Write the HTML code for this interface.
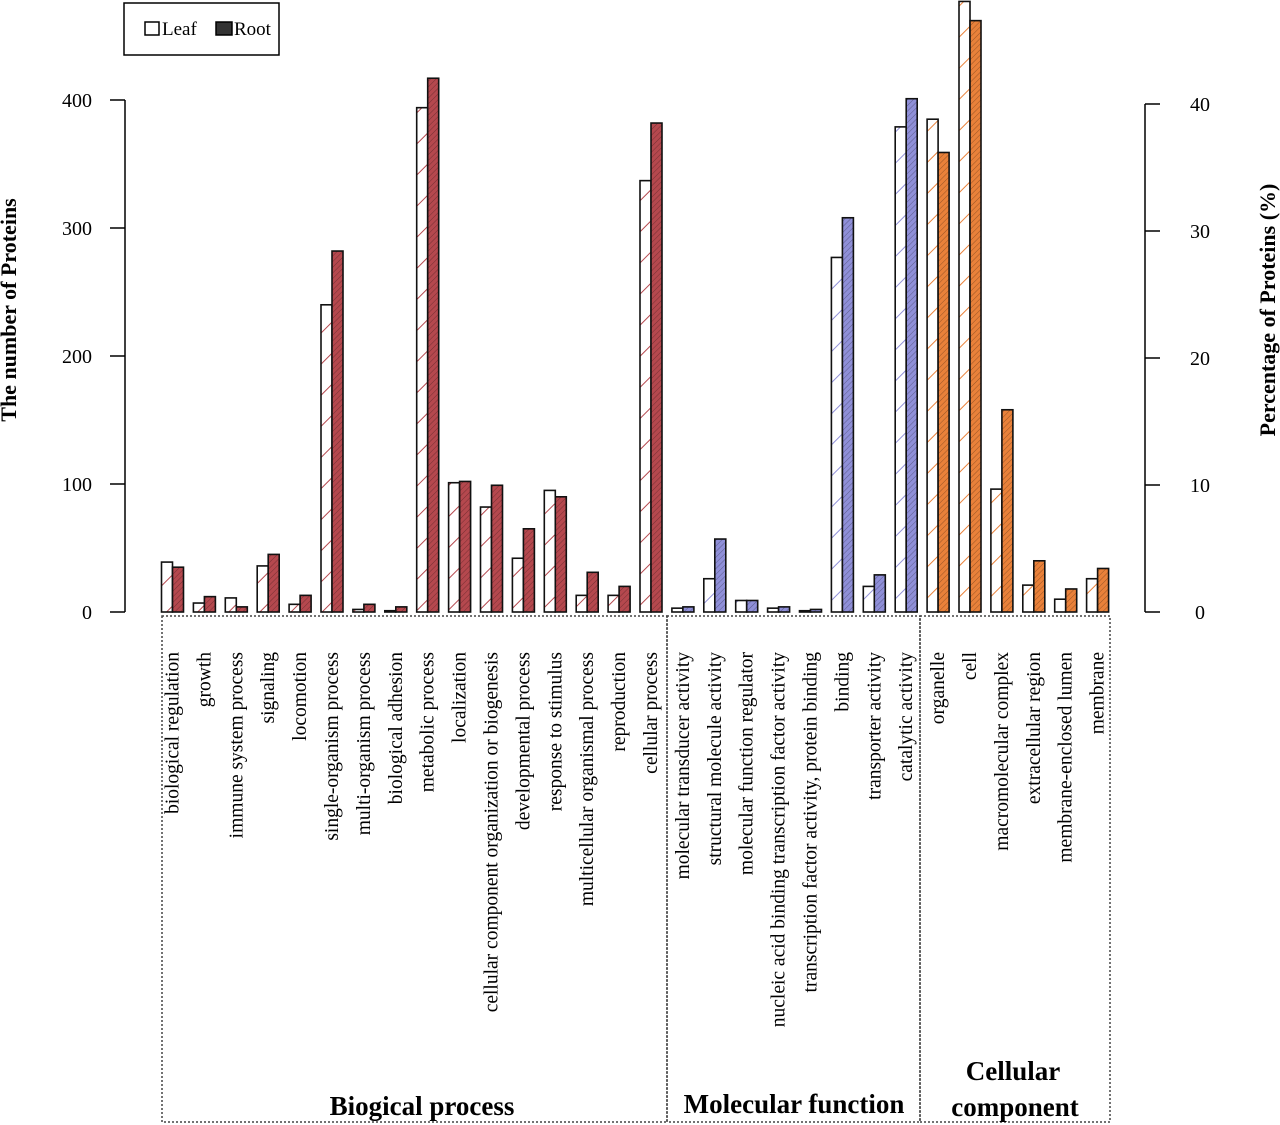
<!DOCTYPE html>
<html><head><meta charset="utf-8"><style>
html,body{margin:0;padding:0;background:#fff;}
svg{display:block;font-family:"Liberation Serif",serif;}
</style></head><body>
<svg id="chart" width="1280" height="1125" viewBox="0 0 1280 1125" xmlns="http://www.w3.org/2000/svg">
<defs>
<pattern id="hRoot" patternUnits="userSpaceOnUse" width="4" height="4" patternTransform="rotate(45)"><line x1="0" y1="0" x2="0" y2="4" stroke="#000" stroke-opacity="0.35" stroke-width="1"/></pattern>
</defs>
<g id="marks"></g>
</svg>
<script>
const categories = ["biological regulation","growth","immune system process","signaling","locomotion","single-organism process","multi-organism process","biological adhesion","metabolic process","localization","cellular component organization or biogenesis","developmental process","response to stimulus","multicellular organismal process","reproduction","cellular process","molecular transducer activity","structural molecule activity","molecular function regulator","nucleic acid binding transcription factor activity","transcription factor activity, protein binding","binding","transporter activity","catalytic activity","organelle","cell","macromolecular complex","extracellular region","membrane-enclosed lumen","membrane"];
const leafValues = [39,7,11,36,6,240,2,1,394,101,82,42,95,13,13,337,3,26,9,3,1,277,20,379,385,477,96,21,10,26];
const rootValues = [35,12,4,45,13,282,6,4,417,102,99,65,90,31,20,382,4,57,9,4,2,308,29,401,359,462,158,40,18,34];
const groupOf = [0,0,0,0,0,0,0,0,0,0,0,0,0,0,0,0,1,1,1,1,1,1,1,1,2,2,2,2,2,2];
const leftTicks = [0,100,200,300,400];
const rightTicks = [0,10,20,30,40];
const colors = ["#b5484e","#8f8fd8","#e9813a"];

const NS="http://www.w3.org/2000/svg";
const svg=document.getElementById('chart');
const g=document.getElementById('marks');
const y0=612, pxPerUnit=1.28;
const yL=v=>y0-v*pxPerUnit;
const yR=p=>y0-p*12.7;
const xG=i=>161.5+31.9*i;
const bw=11;
function mk(tag,attrs,parent){const e=document.createElementNS(NS,tag);for(const k in attrs)e.setAttribute(k,attrs[k]);(parent||g).appendChild(e);return e;}

colors.forEach((c,k)=>{
  const p=mk('pattern',{id:'leaf'+k,patternUnits:'userSpaceOnUse',width:'22',height:'22',patternTransform:'rotate(45)'},svg.querySelector('defs'));
  mk('line',{x1:0,y1:0,x2:0,y2:22,stroke:c,'stroke-width':2},p);
});

categories.forEach((cat,i)=>{
  const x=xG(i), c=colors[groupOf[i]];
  const lv=leafValues[i], rv=rootValues[i];
  let r=mk('rect',{x:x,y:yL(lv),width:bw,height:lv*pxPerUnit,fill:'#fff',stroke:'none'});
  
  
  mk('rect',{x:x,y:yL(lv),width:bw,height:lv*pxPerUnit,fill:'url(#leaf'+groupOf[i]+')',stroke:'#111','stroke-width':1.6});
  let r2=mk('rect',{x:x+bw,y:yL(rv),width:bw,height:rv*pxPerUnit,fill:c,stroke:'none'});
  
  
  mk('rect',{x:x+bw,y:yL(rv),width:bw,height:rv*pxPerUnit,fill:'url(#hRoot)',stroke:'#111','stroke-width':1.6});
  const t=mk('text',{x:0,y:0,transform:`translate(${x+bw+6},652) rotate(-90)`,'text-anchor':'end','font-size':'19.5',fill:'#000'});
  t.textContent=cat;
  
  
});

mk('line',{x1:125,y1:yL(0),x2:125,y2:yL(400),stroke:'#000','stroke-width':1.5});
leftTicks.forEach(v=>{
  mk('line',{x1:110,y1:yL(v),x2:125,y2:yL(v),stroke:'#000','stroke-width':1.5});
  const t=mk('text',{x:92,y:yL(v)+7,'text-anchor':'end','font-size':'20'});t.textContent=v;
  
  
});
mk('line',{x1:1145,y1:yR(0),x2:1145,y2:yR(40),stroke:'#000','stroke-width':1.5});
rightTicks.forEach(v=>{
  mk('line',{x1:1145,y1:yR(v),x2:1160,y2:yR(v),stroke:'#000','stroke-width':1.5});
  const t=mk('text',{x:1200,y:yR(v)+7,'text-anchor':'middle','font-size':'20'});t.textContent=v;
  
  
});
</script>
<svg style="position:absolute;left:0;top:0" width="1280" height="1125">
<text transform="translate(16,310) rotate(-90)" text-anchor="middle" font-family="Liberation Serif,serif" font-weight="bold" font-size="22">The number of Proteins</text>
<text transform="translate(1275,310) rotate(-90)" text-anchor="middle" font-family="Liberation Serif,serif" font-weight="bold" font-size="22">Percentage of Proteins (%)</text>
<g>
<rect x="124" y="3" width="155" height="52" fill="none" stroke="#000" stroke-width="1.5"/>
<rect x="145" y="22" width="14" height="13" fill="#fff" stroke="#000" stroke-width="1.5"/>
<text x="162" y="35" font-family="Liberation Serif,serif" font-size="19">Leaf</text>
<rect x="216" y="22" width="16" height="13" fill="#333" stroke="#000" stroke-width="1.5"/>
<text x="234" y="35" font-family="Liberation Serif,serif" font-size="19">Root</text>
</g>
<g fill="none" stroke="#444" stroke-width="1.5" stroke-dasharray="2,2">
<rect x="162" y="616" width="505" height="506"/>
<rect x="667" y="616" width="253" height="506"/>
<rect x="920" y="616" width="190" height="506"/>
</g>
<g font-family="Liberation Serif,serif" font-weight="bold" font-size="27" text-anchor="middle">
<text x="422" y="1115">Biogical process</text>
<text x="794" y="1113">Molecular function</text>
<text x="1013" y="1080">Cellular<tspan x="1015" dy="36">component</tspan></text>
</g>
</svg>
</body></html>
